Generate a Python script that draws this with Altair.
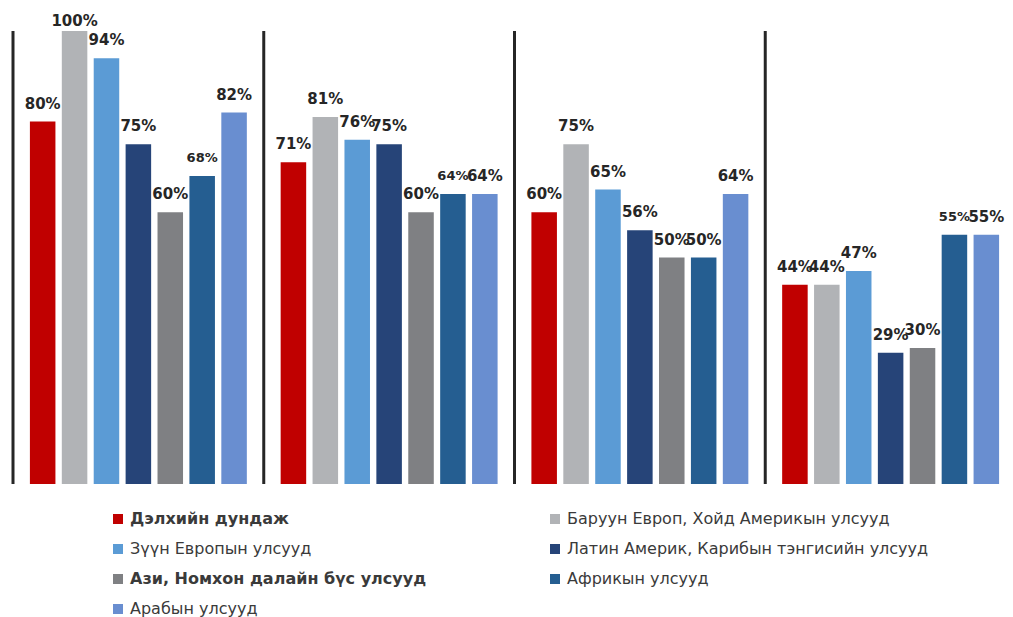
import altair as alt
import pandas as pd

groups = ["Бүлэг 1", "Бүлэг 2", "Бүлэг 3", "Бүлэг 4"]
regions = [
    "Дэлхийн дундаж",
    "Баруун Европ, Хойд Америкын улсууд",
    "Зүүн Европын улсууд",
    "Латин Америк, Карибын тэнгисийн улсууд",
    "Ази, Номхон далайн бүс улсууд",
    "Африкын улсууд",
    "Арабын улсууд",
]
colors = ["#C00000", "#B1B3B6", "#5B9BD5", "#264478", "#7F8083", "#255E91", "#698ED0"]

values_g1 = [0.80, 1.00, 0.94, 0.75, 0.60, 0.68, 0.82]
values_g2 = [0.71, 0.81, 0.76, 0.75, 0.60, 0.64, 0.64]
values_g3 = [0.60, 0.75, 0.65, 0.56, 0.50, 0.50, 0.64]
values_g4 = [0.44, 0.44, 0.47, 0.29, 0.30, 0.55, 0.55]

rows = []
for g, vals in zip(groups, [values_g1, values_g2, values_g3, values_g4]):
    for r, v in zip(regions, vals):
        rows.append({"group": g, "region": r, "value": v})
df = pd.DataFrame(rows)
gdf = pd.DataFrame({"group": groups})

xscale = alt.Scale(domain=groups, range=[0, 1003], paddingInner=0, paddingOuter=0)
xoff = alt.XOffset("region:N", sort=regions,
                   scale=alt.Scale(domain=regions, paddingInner=0.2, paddingOuter=0.53))
yenc = alt.Y("value:Q", scale=alt.Scale(domain=[0, 1]), axis=None)
xenc = alt.X("group:N", sort=groups, scale=xscale, axis=None)

bold_expr = ("indexof(['Дэлхийн дундаж','Ази, Номхон далайн бүс улсууд'], datum.value) >= 0 "
             "? 'bold' : 'normal'")

bars = alt.Chart(df).mark_bar().encode(
    x=xenc,
    xOffset=xoff,
    y=yenc,
    color=alt.Color(
        "region:N", sort=regions,
        scale=alt.Scale(domain=regions, range=colors),
        legend=alt.Legend(
            title=None, orient="none", legendX=97, legendY=480,
            columns=2, direction="horizontal", columnPadding=120, rowPadding=14,
            symbolType="square", symbolSize=100, symbolStrokeWidth=0,
            labelFont="DejaVu Sans", labelFontSize=16, labelColor="#3A3A3A",
            labelOffset=4, labelLimit=600,
            labelFontWeight={"expr": bold_expr},
        ),
    ),
)

size_enc = alt.condition(
    "datum.region == 'Африкын улсууд' && datum.group != 'Бүлэг 3'",
    alt.value(13), alt.value(15)
)

labels = alt.Chart(df).transform_filter("datum.value < 1").mark_text(
    dy=-18, baseline="middle", font="DejaVu Sans", fontWeight="bold", color="#262626"
).encode(
    x=xenc, xOffset=xoff, y=yenc,
    text=alt.Text("value:Q", format=".0%"),
    size=size_enc,
)

labels_top = alt.Chart(df).transform_filter("datum.value >= 1").mark_text(
    dy=-10, baseline="middle", font="DejaVu Sans", fontWeight="bold", color="#262626"
).encode(
    x=xenc, xOffset=xoff, y=yenc,
    text=alt.Text("value:Q", format=".0%"),
    size=alt.value(15),
)

rules = alt.Chart(gdf).mark_rule(color="#262626", strokeWidth=3).encode(
    x=alt.X("group:N", sort=groups, scale=xscale, axis=None, bandPosition=0),
)

chart = alt.layer(rules, bars, labels, labels_top).properties(
    width=992, height=453,
    autosize=alt.AutoSizeParams(type="none"),
    padding={"left": 5, "top": 23, "right": 0, "bottom": 135},
).configure_view(stroke=None)

chart.save("out.html", embed_options={"renderer": "svg", "actions": False})
